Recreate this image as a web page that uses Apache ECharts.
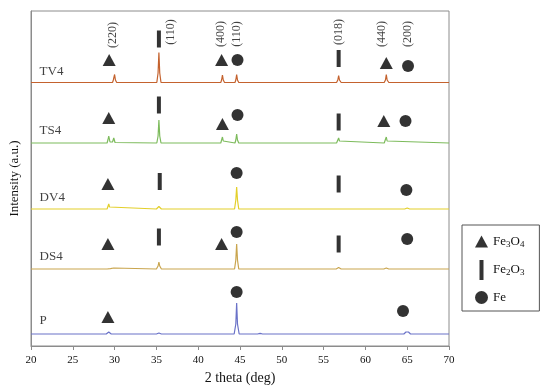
<!DOCTYPE html>
<html><head><meta charset="utf-8">
<script src="https://cdn.jsdelivr.net/npm/echarts@6/dist/echarts.min.js"></script>
<style>html,body{margin:0;padding:0;background:#fff}#c{width:550px;height:390px}</style>
</head><body><div id="c"></div>
<script>
// Diffraction patterns: [2theta (deg), intensity (a.u., vertically offset)]
const P = [[20,12],[29.0,12],[29.2,13],[29.3,14],[29.4,13],[29.6,12],[35.0,12],[35.3,13],[35.6,12],[44.3,12],[44.5,22],[44.6,43],[44.7,22],[44.9,12],[47.1,12],[47.4,12.6],[47.7,12],[64.6,12],[64.85,14],[65.0,15],[65.15,14],[65.4,12],[70,12]];
const DS4 = [[20,77],[29.1,77],[29.3,78.5],[29.5,77.3],[29.9,78],[30.1,77],[35.0,77],[35.2,80],[35.3,84],[35.4,80],[35.6,77],[42.7,77],[42.9,78],[43.1,77],[44.35,77],[44.5,86],[44.6,102],[44.7,86],[44.85,77],[56.5,77],[56.8,78.5],[57.1,77],[62.2,77],[62.5,78],[62.8,77],[64.8,77],[65.0,79],[65.2,77],[70,77]];
const DV4 = [[20,137],[29.1,137],[29.2,139],[29.3,142],[29.4,139],[29.5,137],[35.0,137],[35.3,139.5],[35.6,137],[44.35,137],[44.5,146],[44.6,159],[44.7,146],[44.85,137],[47.2,137],[47.4,137.7],[47.6,137],[64.7,137],[65.0,138],[65.3,137],[70,137]];
const TS4 = [[20,203],[29.1,203],[29.2,206],[29.3,210],[29.45,204],[29.6,203],[29.75,204],[29.9,208],[30.05,203.5],[30.2,203],[35.05,203],[35.2,210],[35.3,226],[35.4,210],[35.55,203],[36.8,203],[37.0,204],[37.2,203],[42.7,203],[42.8,205],[42.9,209],[43.0,205],[43.2,203],[44.4,203],[44.5,206],[44.6,212],[44.7,206],[44.85,203],[47.2,203],[47.4,204],[47.6,203],[56.55,203],[56.7,205],[56.8,208],[56.9,205],[57.1,203],[62.25,203],[62.4,205],[62.5,209],[62.6,205],[62.8,203],[70,203]];
const TV4 = [[20,263.5],[29.1,263.5],[29.3,264.5],[29.5,263.5],[29.75,263.5],[29.85,266],[30.0,271.5],[30.1,266],[30.25,263.5],[35.05,263.5],[35.2,273],[35.3,293.5],[35.4,273],[35.55,263.5],[36.8,263.5],[37.0,265],[37.2,263.5],[42.7,263.5],[42.8,266],[42.9,271],[43.0,266],[43.15,263.5],[44.4,263.5],[44.5,266],[44.6,271.5],[44.7,266],[44.85,263.5],[53.0,263.5],[53.2,264.5],[53.4,263.5],[56.55,263.5],[56.7,266],[56.8,270.5],[56.9,266],[57.1,263.5],[62.25,263.5],[62.4,266],[62.5,271.5],[62.6,266],[62.8,263.5],[70,263.5]];

// Phase markers: [2theta, height]
const fe3o4Marks = [[29.35,286],[42.8,286],[62.5,283],[29.3,228],[42.9,222],[62.2,225],[29.2,162],[29.2,102],[42.8,102],[29.2,29]];
const fe2o3Marks = [[35.3,307],[56.8,287.5],[35.3,241],[56.8,224],[35.4,164.5],[56.8,162],[35.3,109],[56.8,102]];
const feMarks = [[44.7,286],[65.1,280],[44.7,231],[64.8,225],[44.6,173],[64.9,156],[44.6,114],[65.0,107],[44.6,54],[64.5,35]];

// Miller index annotations: [2theta, height, text]
const hklLabels = [[29.8,311,'(220)'],[36.7,314,'(110)'],[42.7,312,'(400)'],[44.6,312,'(110)'],[56.8,314,'(018)'],[62.0,312,'(440)'],[65.1,312,'(200)']];
// Sample names: [2theta, height, text]
const sampleLabels = [[21.03,274.3,'TV4'],[21.03,215.3,'TS4'],[21.03,148,'DV4'],[21.03,89.3,'DS4'],[21.03,25.3,'P']];
const xTicks = {min:20, max:70, interval:5};

const serif = '"Liberation Serif","Times New Roman",serif';
const chart = echarts.init(document.getElementById('c'), null, {renderer:'canvas'});
const lineS = (name, data, color) => ({name, type:'line', data, showSymbol:false, symbol:'none', lineStyle:{color, width:1.2}, itemStyle:{color}, silent:true, z:2, animation:false});
chart.setOption({
  animation:false,
  grid:{left:28, right:101, top:11, bottom:44, show:true, borderColor:'#8c8c8c', borderWidth:1, backgroundColor:'transparent'},
  xAxis:{type:'value', min:xTicks.min, max:xTicks.max, interval:xTicks.interval,
    name:'2 theta (deg)', nameLocation:'middle', nameGap:17,
    nameTextStyle:{fontFamily:serif, fontSize:14, color:'#111'},
    axisLine:{lineStyle:{color:'#8c8c8c'}}, axisTick:{show:true, length:4, lineStyle:{color:'#8c8c8c'}},
    axisLabel:{fontFamily:serif, fontSize:11, color:'#111', margin:9}, splitLine:{show:false}},
  yAxis:{type:'value', min:0, max:335, name:'Intensity (a.u.)', nameLocation:'middle', nameGap:10,
    nameTextStyle:{fontFamily:serif, fontSize:13, color:'#111'},
    axisLine:{show:true, lineStyle:{color:'#8c8c8c'}}, axisTick:{show:false}, axisLabel:{show:false}, splitLine:{show:false}},
  legend:{left:462, top:225, orient:'vertical', padding:[10,15,7,13], itemGap:11, itemWidth:13, itemHeight:20,
    borderColor:'#555', borderWidth:1, selectedMode:false,
    data:[{name:'Fe3O4', icon:'path://M6.5,0L13,12H0Z'},{name:'Fe2O3', icon:'path://M0,0h4v20h-4z'},{name:'Fe', icon:'path://M6,0A6,6,0,1,1,6,12A6,6,0,1,1,6,0Z'}],
    formatter: n => n==='Fe3O4' ? 'Fe{s|3}O{s|4}' : (n==='Fe2O3' ? 'Fe{s|2}O{s|3}' : 'Fe'),
    textStyle:{fontFamily:serif, fontSize:13, color:'#111', rich:{s:{fontFamily:serif, fontSize:9, color:'#111', padding:[6,0,0,0]}}}},
  series:[
    lineS('P', P, '#6a72c8'),
    lineS('DS4', DS4, '#c9a54e'),
    lineS('DV4', DV4, '#e3cf2a'),
    lineS('TS4', TS4, '#7dbb5c'),
    lineS('TV4', TV4, '#c4622e'),
    {name:'Fe3O4', type:'scatter', data:fe3o4Marks, symbol:'triangle', symbolSize:[13,12], itemStyle:{color:'#000'}, z:5, silent:true},
    {name:'Fe2O3', type:'scatter', data:fe2o3Marks, symbol:'rect', symbolSize:[4,17], itemStyle:{color:'#000'}, z:5, silent:true},
    {name:'Fe', type:'scatter', data:feMarks, symbol:'circle', symbolSize:12, itemStyle:{color:'#000'}, z:5, silent:true},
    {name:'hkl', type:'scatter', data:hklLabels, symbolSize:0, silent:true, z:6,
      label:{show:true, position:'inside', rotate:90, formatter:p=>p.data[2], fontFamily:serif, fontSize:12, color:'#111'}},
    {name:'samples', type:'scatter', data:sampleLabels, symbolSize:0, silent:true, z:6,
      label:{show:true, position:'right', distance:0, formatter:p=>p.data[2], fontFamily:serif, fontSize:13, color:'#111'}}
  ]
});
</script></body></html>
